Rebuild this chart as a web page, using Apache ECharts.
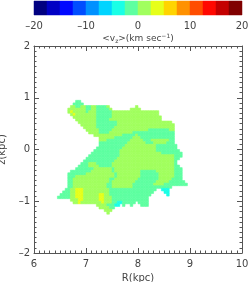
<!DOCTYPE html>
<html><head><meta charset="utf-8">
<script src="https://cdn.jsdelivr.net/npm/echarts@6/dist/echarts.min.js"></script>
<style>html,body{margin:0;padding:0;background:#fff;}#c{width:249px;height:282px;}</style>
</head><body><div id="c"></div>
<script>
// ---- data ----
const rRange = [6, 10];
const zRange = [-2, 2];
const cbarTicks = [-20, -10, 0, 10, 20];
const vzMin = -20, vzMax = 20, vzLevels = 16;
const levelColors = ['#000080','#0000c4','#0008ff','#004dff','#0091ff','#00d4ff','#1affe6','#5effa1',
                     '#a1ff5e','#e6ff1a','#ffd400','#ff9100','#ff4d00','#ff0800','#c40000','#800000'];
// map cells: 0.05 kpc bins; R of column 0 centre, z of row 0 centre
const cellR0 = 6.425, cellZ0 = 0.975, cellStep = 0.05;
// <v_z> value of each colour class (km/s)
const vzCode = { a: -1.2, g: 1.2, y: 3.7, c: -3.7 };
// rows from top (z=0.975) downwards: runs of [firstColumn, lastColumn, class]
const vzRuns = [
  [],
  [[8,9,'a']],
  [[7,10,'a']],
  [[6,7,'g'],[8,9,'a'],[10,11,'g'],[12,13,'a'],[14,15,'g'],[16,19,'a'],[20,20,'g'],[31,31,'g']],
  [[5,11,'g'],[12,13,'a'],[14,15,'g'],[16,20,'a'],[21,21,'g'],[29,32,'g']],
  [[5,5,'g'],[6,6,'y'],[7,11,'g'],[12,12,'a'],[13,15,'g'],[16,21,'a'],[22,39,'g']],
  [[6,6,'g'],[7,7,'y'],[8,15,'g'],[16,21,'a'],[22,39,'g']],
  [[7,15,'g'],[16,21,'a'],[22,40,'g']],
  [[8,15,'g'],[16,20,'a'],[21,40,'g']],
  [[9,15,'g'],[16,23,'a'],[24,44,'g']],
  [[10,15,'g'],[16,23,'a'],[24,45,'g']],
  [[11,15,'g'],[16,22,'a'],[23,45,'g']],
  [[12,16,'g'],[17,21,'a'],[22,35,'g'],[36,43,'a'],[44,45,'g']],
  [[13,16,'g'],[17,20,'a'],[21,29,'g'],[30,45,'a']],
  [[15,25,'g'],[26,30,'a'],[31,31,'g'],[32,45,'a']],
  [[17,22,'g'],[23,29,'a'],[30,32,'g'],[33,45,'a']],
  [[17,19,'g'],[20,28,'a'],[29,33,'g'],[34,36,'a'],[37,43,'g'],[44,45,'a']],
  [[17,27,'a'],[28,34,'g'],[35,37,'a'],[38,42,'g'],[43,45,'a']],
  [[17,26,'a'],[27,38,'g'],[39,46,'a']],
  [[16,25,'a'],[26,38,'g'],[39,46,'a']],
  [[15,24,'a'],[25,38,'g'],[39,47,'a']],
  [[14,24,'a'],[25,40,'g'],[41,48,'a']],
  [[13,24,'a'],[25,45,'g'],[46,48,'a']],
  [[12,23,'a'],[24,45,'g'],[46,47,'a']],
  [[11,22,'a'],[23,45,'g'],[46,46,'a']],
  [[10,12,'a'],[13,15,'g'],[16,21,'a'],[22,45,'g'],[46,46,'a']],
  [[9,12,'a'],[13,16,'g'],[17,21,'a'],[22,45,'g'],[46,47,'a']],
  [[8,14,'a'],[15,21,'g'],[22,22,'a'],[23,45,'g'],[46,48,'a']],
  [[6,13,'a'],[14,21,'g'],[22,22,'a'],[23,32,'g'],[33,38,'a'],[39,45,'g'],[46,48,'a']],
  [[5,11,'a'],[12,22,'g'],[23,23,'a'],[24,32,'g'],[33,39,'a'],[40,45,'g'],[46,48,'a']],
  [[5,7,'a'],[8,22,'g'],[23,23,'a'],[24,32,'g'],[33,39,'a'],[40,45,'g'],[46,48,'a']],
  [[5,6,'a'],[7,20,'g'],[21,22,'a'],[23,31,'g'],[32,39,'a'],[40,44,'g'],[45,48,'a']],
  [[5,6,'a'],[7,20,'g'],[21,21,'a'],[22,30,'g'],[31,38,'a'],[39,43,'g'],[44,49,'a']],
  [[5,6,'a'],[7,19,'g'],[20,21,'a'],[22,29,'g'],[30,37,'a'],[38,41,'g'],[42,50,'a']],
  [[5,6,'a'],[7,19,'g'],[20,21,'a'],[22,29,'g'],[30,44,'a']],
  [[4,5,'a'],[6,7,'g'],[8,10,'y'],[11,20,'g'],[21,38,'a'],[41,43,'c']],
  [[3,5,'a'],[6,7,'g'],[8,10,'y'],[11,20,'g'],[21,37,'a'],[42,43,'c']],
  [[2,5,'a'],[6,7,'g'],[8,10,'y'],[11,16,'g'],[17,18,'y'],[19,20,'g'],[21,36,'a'],[43,43,'c']],
  [[1,5,'a'],[6,7,'g'],[8,10,'y'],[11,16,'g'],[17,18,'y'],[19,21,'g'],[22,35,'a']],
  [[6,8,'g'],[9,10,'y'],[11,16,'g'],[17,18,'y'],[19,21,'g'],[22,35,'a']],
  [[7,8,'g'],[9,9,'y'],[10,17,'g'],[18,18,'y'],[19,21,'g'],[22,23,'a'],[24,25,'c'],[26,30,'a'],[32,35,'a']],
  [[16,19,'g'],[20,22,'a'],[23,24,'c'],[26,26,'a'],[29,29,'a'],[33,35,'a']],
  [[17,20,'g'],[21,22,'a']],
  [[19,21,'g']],
  [[20,20,'g']]
];

// ---- build ----
const levelStep = (vzMax - vzMin) / vzLevels;
function colorFor(v) {
  let k = Math.floor((v - vzMin) / levelStep);
  k = Math.max(0, Math.min(vzLevels - 1, k));
  return levelColors[k];
}
const mapData = [];
vzRuns.forEach((runs, r) => {
  runs.forEach(([c0, c1, code]) => {
    for (let c = c0; c <= c1; c++) {
      mapData.push([cellR0 + c * cellStep, cellZ0 - r * cellStep, vzCode[code]]);
    }
  });
});
const cbarData = levelColors.map((col, k) => [vzMin + k * levelStep, vzMin + (k + 1) * levelStep, k]);

const FONT = 'DejaVu Sans';
const TXT = '#444';
const LINE = '#555';
const fmtMinus = v => String(v).replace('-', '\u2013');

function frameAxis(extra) {
  return Object.assign({
    type: 'value', gridIndex: 0,
    axisLine: { show: true, onZero: false, lineStyle: { color: LINE, width: 1 } },
    axisTick: { show: true, inside: true, length: 5, lineStyle: { color: LINE } },
    minorTick: { show: true, splitNumber: 10, length: 2.5, lineStyle: { color: LINE } },
    splitLine: { show: false }, minorSplitLine: { show: false },
    axisLabel: { show: false }
  }, extra);
}

const chart = echarts.init(document.getElementById('c'), null, { renderer: 'canvas' });
chart.setOption({
  animation: false,
  backgroundColor: '#fff',
  textStyle: { fontFamily: FONT },
  grid: [
    { left: 34, top: 46, width: 208, height: 207, containLabel: false, outerBoundsMode: 'none' },
    { left: 34, top: 1, width: 208, height: 14, containLabel: false, outerBoundsMode: 'none' }
  ],
  xAxis: [
    frameAxis({ position: 'bottom', min: rRange[0], max: rRange[1], interval: 1,
      axisLabel: { show: true, color: TXT, fontSize: 10, margin: 6, fontFamily: FONT },
      name: 'R(kpc)', nameLocation: 'middle', nameGap: 19,
      nameTextStyle: { color: TXT, fontSize: 10, fontFamily: FONT } }),
    frameAxis({ position: 'top', min: rRange[0], max: rRange[1], interval: 1 }),
    { type: 'value', gridIndex: 1, min: vzMin, max: vzMax, interval: 10, position: 'bottom',
      axisLine: { show: false }, axisTick: { show: false }, splitLine: { show: false },
      axisLabel: { show: true, color: TXT, fontSize: 10, margin: 6, fontFamily: FONT, formatter: fmtMinus },
      name: '<v{sub|z}>(km sec{sup|\u22121})', nameLocation: 'middle', nameGap: 18,
      nameTextStyle: { color: TXT, fontSize: 9, fontFamily: FONT,
        rich: { sub: { fontSize: 6, color: TXT, fontFamily: FONT, padding: [5, 0, 0, 0] },
                sup: { fontSize: 6, color: TXT, fontFamily: FONT, padding: [0, 0, 5, 0] } } } }
  ],
  yAxis: [
    frameAxis({ position: 'left', min: zRange[0], max: zRange[1], interval: 1,
      axisLabel: { show: true, color: TXT, fontSize: 10, margin: 4, fontFamily: FONT, formatter: fmtMinus },
      name: 'z(kpc)', nameLocation: 'middle', nameGap: 17, nameRotate: 90,
      nameTextStyle: { color: TXT, fontSize: 10, fontFamily: FONT } }),
    frameAxis({ position: 'right', min: zRange[0], max: zRange[1], interval: 1 }),
    { type: 'value', gridIndex: 1, min: 0, max: 1, show: false }
  ],
  series: [
    {
      type: 'custom', xAxisIndex: 0, yAxisIndex: 0, clip: true,
      data: mapData,
      renderItem(params, api) {
        const R = api.value(0), z = api.value(1), v = api.value(2);
        const p0 = api.coord([R - cellStep / 2, z + cellStep / 2]);
        const p1 = api.coord([R + cellStep / 2, z - cellStep / 2]);
        const col = colorFor(v);
        return { type: 'rect', shape: { x: p0[0], y: p0[1], width: p1[0] - p0[0], height: p1[1] - p0[1] },
                 style: { fill: col, stroke: col, lineWidth: 0.6 } };
      }
    },
    {
      type: 'custom', xAxisIndex: 2, yAxisIndex: 2,
      data: cbarData,
      renderItem(params, api) {
        const p0 = api.coord([api.value(0), 1]);
        const p1 = api.coord([api.value(1), 0]);
        const col = levelColors[api.value(2)];
        return { type: 'rect', shape: { x: p0[0], y: p0[1], width: p1[0] - p0[0], height: p1[1] - p0[1] },
                 style: { fill: col, stroke: col, lineWidth: 0.5 } };
      }
    }
  ]
});
</script></body></html>
